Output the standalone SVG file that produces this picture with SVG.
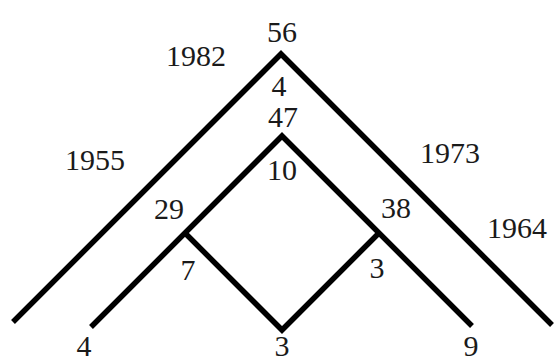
<svg xmlns="http://www.w3.org/2000/svg" width="555" height="364" viewBox="0 0 555 364">
<style>
.ln{fill:none;stroke:#000;stroke-width:5.5;stroke-linejoin:miter;stroke-linecap:butt}
text{font-family:"Liberation Serif","Times New Roman",serif;font-size:30px;fill:#1a1a1a;text-anchor:middle;font-variant-numeric:oldstyle-nums}
</style>
<rect width="555" height="364" fill="#fff"/>
<g id="connectors">
<polyline class="ln" points="13,322 281,54 552,325"/>
<polyline class="ln" points="91,327 282,136 472,326"/>
<polyline class="ln" points="185,233 282,330 379,233"/>
</g>
<g id="n56"><text x="282" y="42">56</text></g>
<g id="n1982"><text x="196" y="66">1982</text></g>
<g id="n4top"><text x="279" y="96">4</text></g>
<g id="n47"><text x="283" y="127">47</text></g>
<g id="n10"><text x="282" y="180">10</text></g>
<g id="n1955"><text x="95" y="170">1955</text></g>
<g id="n29"><text x="169" y="219">29</text></g>
<g id="n7"><text x="188" y="280">7</text></g>
<g id="n4"><text x="84" y="356">4</text></g>
<g id="n3"><text x="282" y="356">3</text></g>
<g id="n9"><text x="471" y="356">9</text></g>
<g id="n1973"><text x="450" y="163">1973</text></g>
<g id="n38"><text x="396" y="218">38</text></g>
<g id="n3r"><text x="377" y="278">3</text></g>
<g id="n1964"><text x="517" y="238">1964</text></g>
</svg>
